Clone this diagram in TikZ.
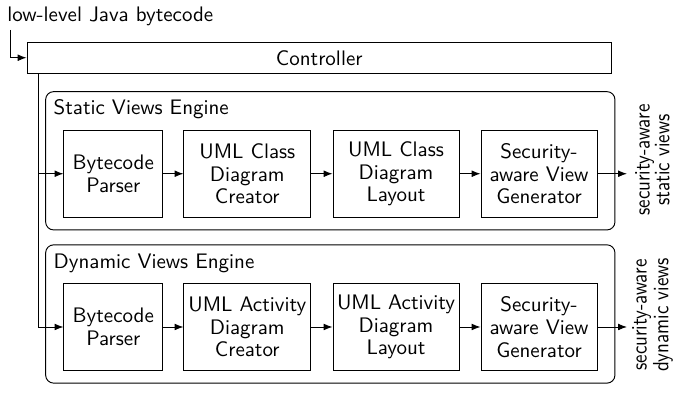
\documentclass[tikz,border=0pt]{standalone}
\usepackage{fontspec}
\usetikzlibrary{arrows.meta}
\newlength{\pxu}
\setlength{\pxu}{0.4762pt}
\begin{document}
\begin{tikzpicture}[x=\pxu,y=-\pxu,
  every node/.style={font=\sffamily\fontsize{10}{10.8}\selectfont},
  arr/.style={line width=0.45pt,-{Latex[length=4.2pt,width=3.2pt]}},
  stepbox/.style={draw,line width=0.45pt,align=center,inner sep=1pt,minimum height=87.5\pxu},
  engine/.style={draw,line width=0.45pt,rounded corners=8\pxu,minimum width=569.3\pxu,minimum height=138.3\pxu},
  title/.style={anchor=base west,inner sep=0pt},
  outlabel/.style={rotate=90,align=center,inner sep=0pt,font=\sffamily\fontsize{10.5}{9.4}\selectfont}
]
\useasboundingbox (0,0) rectangle (674,395);

% input text
\node[title] (intext) at (7,21.7) {low-level Java bytecode};
\coordinate (in) at (10,30);

% controller
\node[draw,line width=0.45pt,minimum width=584.5\pxu,minimum height=31.5\pxu] (ctrl) at (319.25,57.75) {Controller};
\draw[arr] (in) |- (ctrl.west);

% engines
\node[engine] (seng) at (330.3,160.8) {};
\node[title] (stitle) at (53.3,115) {Static Views Engine};
\node[engine] (deng) at (330.3,314) {};
\node[title] (dtitle) at (53.3,268.3) {Dynamic Views Engine};

% static row
\node[stepbox,minimum width=98.7\pxu] (s1) at (113.3,173.75) {Bytecode\\Parser};
\node[stepbox,minimum width=126.7\pxu] (s2) at (247.3,173.75) {UML Class\\Diagram\\Creator};
\node[stepbox,minimum width=126\pxu] (s3) at (396,173.75) {UML Class\\Diagram\\Layout};
\node[stepbox,minimum width=116\pxu] (s4) at (539,173.75) {Security-\\aware View\\Generator};

% dynamic row
\node[stepbox,minimum width=98.7\pxu] (d1) at (113.3,327) {Bytecode\\Parser};
\node[stepbox,minimum width=126.7\pxu] (d2) at (247.3,327) {UML Activity\\Diagram\\Creator};
\node[stepbox,minimum width=126\pxu] (d3) at (396,327) {UML Activity\\Diagram\\Layout};
\node[stepbox,minimum width=116\pxu] (d4) at (539,327) {Security-\\aware View\\Generator};

% bus from controller
\coordinate (bus) at (38.3,73.5);
\draw[arr] (bus) |- (s1.west);
\draw[arr] (bus) |- (d1.west);

\draw[arr] (s1) -- (s2);
\draw[arr] (s2) -- (s3);
\draw[arr] (s3) -- (s4);
\draw[arr] (d1) -- (d2);
\draw[arr] (d2) -- (d3);
\draw[arr] (d3) -- (d4);

% outputs
\coordinate (sout) at (627,173.75);
\coordinate (dout) at (627,327);
\draw[arr] (s4) -- (sout);
\draw[arr] (d4) -- (dout);

\node[outlabel] (slabel) at (652.5,160) {\scalebox{0.86}[1]{security-aware}\\\scalebox{0.86}[1]{static views}};
\node[outlabel] (dlabel) at (652.5,315) {\scalebox{0.86}[1]{security-aware}\\\scalebox{0.86}[1]{dynamic views}};
\end{tikzpicture}
\end{document}
